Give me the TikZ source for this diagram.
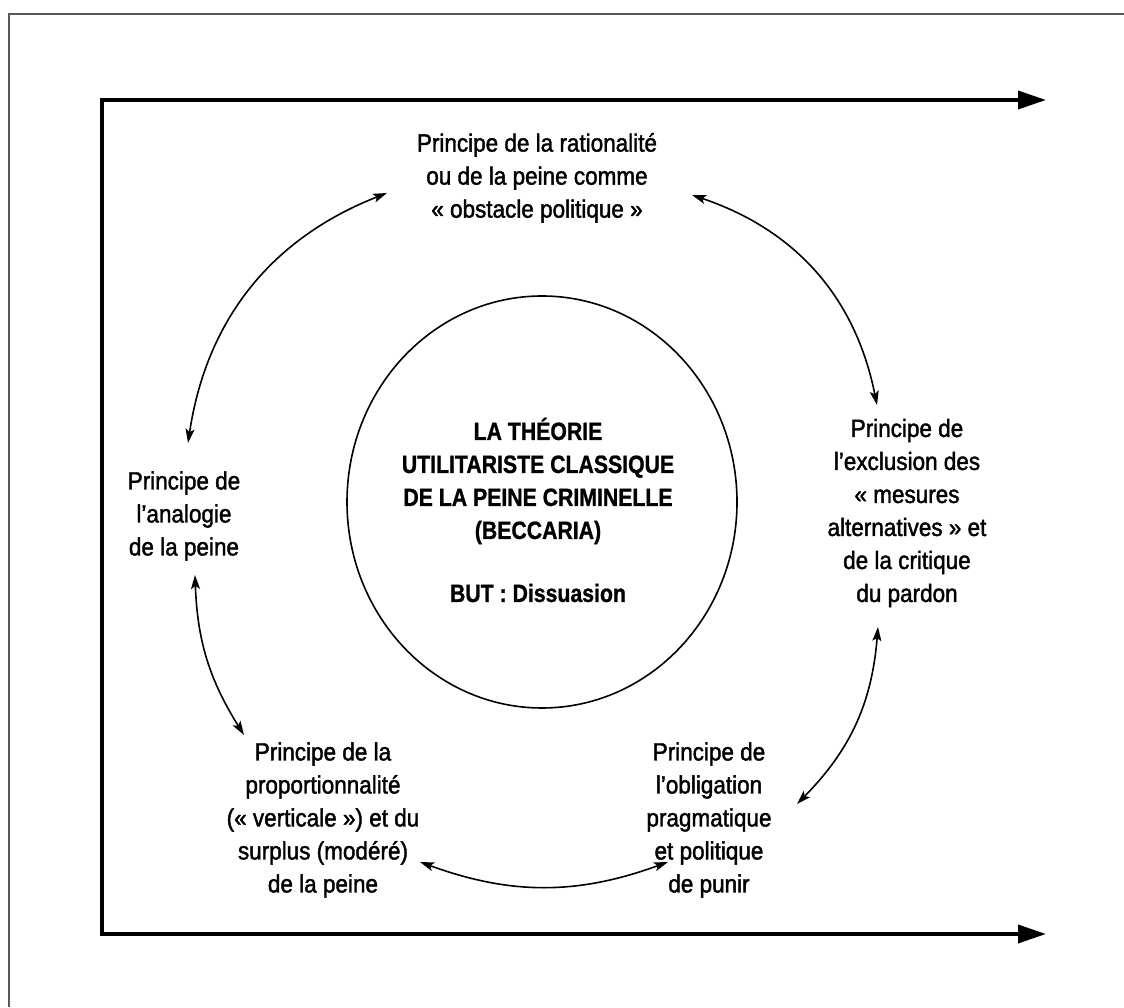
\documentclass[tikz,border=0pt]{standalone}
\usepackage{fontspec}
\setmainfont{Liberation Sans}[FakeStretch=0.9,FakeBold=1.6]
\newfontfamily\titrefont{Liberation Sans}[FakeStretch=0.85,FakeBold=1]
\usetikzlibrary{arrows.meta,positioning,shapes.geometric}

\begin{document}
\begin{tikzpicture}
    [x=0.5pt,y=0.5pt,
      principe/.style={align=center,inner sep=0pt,
        font=\fontsize{12.5}{16.5}\selectfont},
      titre/.style={align=center,inner sep=0pt,
        font=\titrefont\bfseries\fontsize{12.5}{16.5}\selectfont},
      cadre/.style={line width=1.8pt,line join=miter,
        {Triangle[length=14pt,width=9pt]}-{Triangle[length=14pt,width=9pt]}},
      lien/.style={line width=0.8pt,
        {Stealth[length=7pt,width=4.5pt,inset=1.5pt]}-{Stealth[length=7pt,width=4.5pt,inset=1.5pt]}}]
  \useasboundingbox (0,0) rectangle (1124,1007);

  \draw [gray!70!black,line width=1pt] (9,0) |- (1124,993);
  \draw [cadre] (1046,907) -- (102,907) -- (102,73) -- (1046,73);

  \node [draw,ellipse,line width=0.8pt,minimum width=195pt,minimum height=206pt] (cercle) at (542,505) {};
  \node [titre] (theorie) at (538,497) {LA THÉORIE\\UTILITARISTE CLASSIQUE\\DE LA PEINE CRIMINELLE\\(BECCARIA)\\[15pt]BUT : Dissuasion};

  \node [principe] (rationalite) at (537,829) {Principe de la rationalité\\ou de la peine comme\\«~obstacle politique~»};
  \node [principe] (analogie) at (184,491) {Principe de\\l’analogie\\de la peine};
  \node [principe] (exclusion) at (907,494) {Principe de\\l’exclusion des\\«~mesures\\alternatives~» et\\de la critique\\du pardon};
  \node [principe] (proportion) at (323,187) {Principe de la\\proportionnalité\\(«~verticale~») et du\\surplus (modéré)\\de la peine};
  \node [principe] (obligation) at (709,187) {Principe de\\l’obligation\\pragmatique\\et politique\\de punir};

  \draw [lien] ([shift={(-150,-15)}]rationalite.center) to[bend right=30] ([shift={(4,73)}]analogie.center);
  \draw [lien] ([shift={(155,-17)}]rationalite.center) to[bend left=30] ([shift={(-30,108)}]exclusion.center);
  \draw [lien] ([shift={(11,-59)}]analogie.center) to[bend right=15] ([shift={(-79,85)}]proportion.center);
  \draw [lien] ([shift={(97,-42)}]proportion.center) to[bend right=20] ([shift={(-41,-42)}]obligation.center);
  \draw [lien] ([shift={(88,16)}]obligation.center) to[bend right=20] ([shift={(-29,-114)}]exclusion.center);
\end{tikzpicture}
\end{document}
